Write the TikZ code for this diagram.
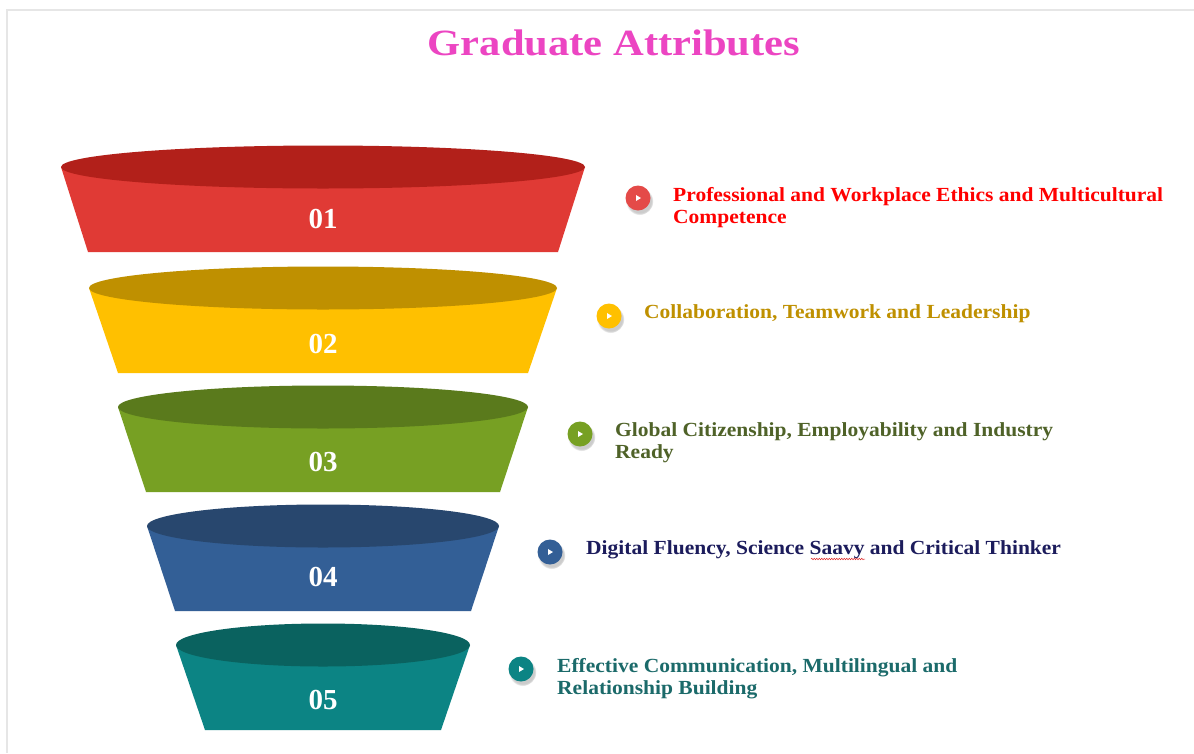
\documentclass[tikz,border=0pt]{standalone}
\usepackage{fontspec}
\setmainfont{Liberation Serif}
\newfontfamily\itemfont{Liberation Serif}[FakeStretch=1.075]
\newfontfamily\titlefont{Liberation Serif}[FakeStretch=1.15]
\usetikzlibrary{shadows,decorations.pathmorphing}
\definecolor{framegray}{HTML}{E6E6E6}
\definecolor{titlepink}{HTML}{EC45C2}
\definecolor{bodyA}{HTML}{E03A35}\definecolor{topA}{HTML}{B2201A}
\definecolor{bodyB}{HTML}{FFC000}\definecolor{topB}{HTML}{BF9000}
\definecolor{bodyC}{HTML}{77A023}\definecolor{topC}{HTML}{5A7A1C}
\definecolor{bodyD}{HTML}{335F96}\definecolor{topD}{HTML}{28476E}
\definecolor{bodyE}{HTML}{0C8484}\definecolor{topE}{HTML}{0A625F}
\definecolor{dotA}{HTML}{E44A48}
\definecolor{textA}{HTML}{FF0000}
\definecolor{textB}{HTML}{BF9000}
\definecolor{textC}{HTML}{4F6228}
\definecolor{textD}{HTML}{1C1C5C}
\definecolor{textE}{HTML}{1B6A6A}
\definecolor{spellred}{HTML}{E03030}
\tikzset{
  titlestyle/.style={font=\titlefont\fontsize{37}{42}\selectfont\bfseries, text=titlepink, inner sep=0pt},
  numlabel/.style={font=\fontsize{29}{32}\selectfont\bfseries, text=white, inner sep=0pt},
  bullet/.style={circle, fill=#1, minimum size=25pt, inner sep=0pt,
    circular drop shadow={shadow xshift=1.5pt, shadow yshift=-3pt, opacity=0.2, fill=black},
    path picture={\fill[white] ([xshift=-2pt,yshift=3pt]path picture bounding box.center) -- ++(5pt,-3pt) -- ++(-5pt,-3pt) -- cycle;}},
  itemtext/.style={font=\itemfont\fontsize{20}{22}\selectfont\bfseries, text=#1, align=left, inner sep=0pt, anchor=base west},
}
\begin{document}
\begin{tikzpicture}[x=1pt,y=-1pt]
\useasboundingbox[fill=white] (0,0) rectangle (1194,753);
\draw[framegray, line width=1.2pt] (7,753) -- (7,10) -- (1194,10);
\node[titlestyle] (title) at (614,43) {Graduate Attributes};

\foreach \ty/\tw/\by/\bw/\bc/\tc/\num/\ly in {
  167/262/252/235/bodyA/topA/1/219,
  288/234/373/205/bodyB/topB/2/344,
  407/205/492/177/bodyC/topC/3/462,
  526/176/611/148/bodyD/topD/4/577,
  645/147/730/118/bodyE/topE/5/700}{
  \fill[\bc] (323-\tw,\ty) -- (323+\tw,\ty) -- (323+\bw,\by) -- (323-\bw,\by) -- cycle;
  \fill[\tc] (323,\ty) ellipse [x radius=\tw pt, y radius=21.5pt];
  \node[numlabel] (n\num) at (323,\ly) {0\num};
}

\node[bullet=dotA] (b1) at (638,198) {};
\node[bullet=bodyB] (b2) at (609,316) {};
\node[bullet=bodyC] (b3) at (580,434) {};
\node[bullet=bodyD] (b4) at (550,552) {};
\node[bullet=bodyE] (b5) at (521,669) {};

\node[itemtext=textA] (t1) at (673,223) {Professional and Workplace Ethics and Multicultural\\Competence};
\node[itemtext=textB] (t2) at (644,318) {Collaboration, Teamwork and Leadership};
\node[itemtext=textC] (t3) at (615,458) {Global Citizenship, Employability and Industry\\Ready};
\node[itemtext=textD] (t4) at (586,554) {Digital Fluency, Science Saavy and Critical Thinker};
\node[itemtext=textE] (t5) at (557,694) {Effective Communication, Multilingual and\\Relationship Building};

\coordinate (sq1) at (811,559);
\coordinate (sq2) at (865,559);
\draw[spellred, line width=0.5pt, decorate, decoration={snake, amplitude=0.8pt, segment length=2.5pt}] (sq1) -- (sq2);
\end{tikzpicture}
\end{document}
